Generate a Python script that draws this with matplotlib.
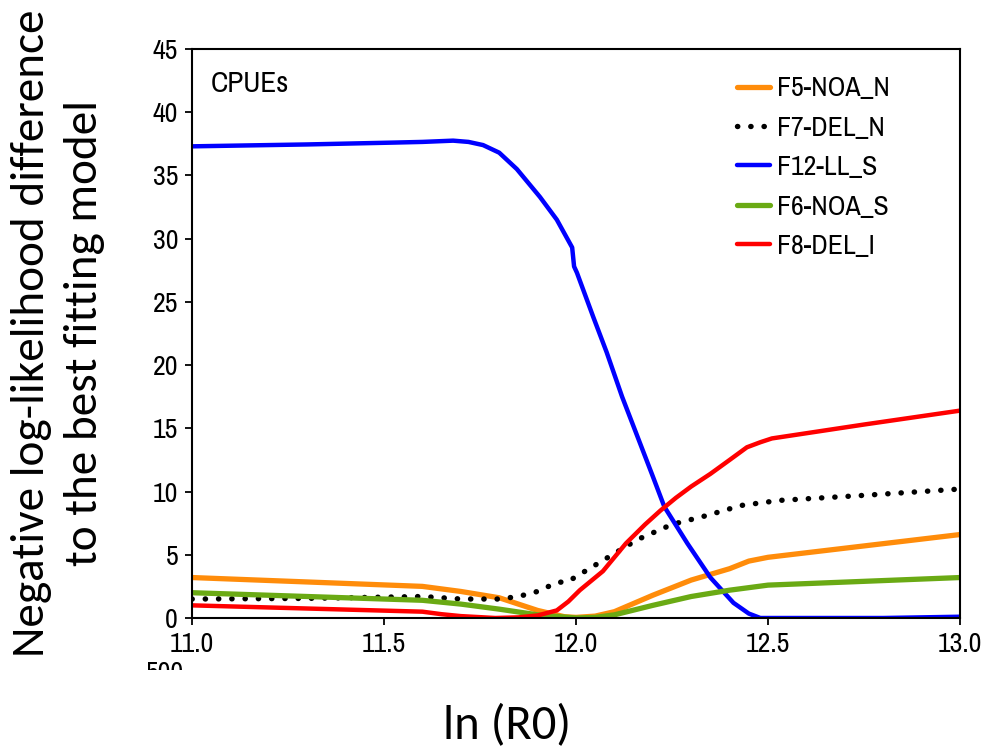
import matplotlib
matplotlib.use("Agg")
import matplotlib.pyplot as plt
from matplotlib.transforms import Bbox

# ---------------------------------------------------------
# Likelihood profile over ln(R0), CPUE components
# ---------------------------------------------------------
ln_r0_blue = [11.0, 11.3, 11.53, 11.6, 11.68, 11.72, 11.758, 11.80, 11.846, 11.906,
              11.95, 11.99, 11.995, 12.0025, 12.045, 12.08, 12.12, 12.167, 12.2,
              12.23, 12.29, 12.35, 12.41, 12.45, 12.48, 12.6, 12.8, 13.0]
f12_ll_s = [37.3, 37.45, 37.6, 37.65, 37.75, 37.65, 37.4, 36.8, 35.5, 33.3,
            31.5, 29.3, 27.8, 27.3, 23.8, 21.0, 17.5, 13.8, 11.2,
            8.8, 5.9, 3.2, 1.2, 0.35, 0.0, 0.0, 0.0, 0.1]

ln_r0_red = [11.0, 11.3, 11.6, 11.65, 11.7, 11.79, 11.85, 11.9, 11.95, 11.98,
             12.01, 12.07, 12.13, 12.18, 12.22, 12.26, 12.30, 12.35, 12.40,
             12.445, 12.48, 12.51, 12.75, 13.0]
f8_del_i = [1.0, 0.75, 0.5, 0.3, 0.15, 0.0, 0.05, 0.2, 0.6, 1.3,
            2.2, 3.7, 5.9, 7.4, 8.5, 9.5, 10.4, 11.4, 12.5,
            13.5, 13.9, 14.2, 15.3, 16.4]

ln_r0_orange = [11.0, 11.3, 11.6, 11.7, 11.8, 11.9, 11.97, 12.0, 12.05, 12.1,
                12.2, 12.3, 12.4, 12.45, 12.5, 12.75, 13.0]
f5_noa_n = [3.2, 2.85, 2.5, 2.1, 1.6, 0.6, 0.1, 0.05, 0.15, 0.5,
            1.8, 3.0, 3.9, 4.5, 4.8, 5.7, 6.6]

ln_r0_green = [11.0, 11.3, 11.6, 11.7, 11.8, 11.9, 12.0, 12.05, 12.1, 12.2,
               12.3, 12.4, 12.5, 12.75, 13.0]
f6_noa_s = [2.0, 1.7, 1.4, 1.1, 0.7, 0.25, 0.0, 0.05, 0.25, 1.0,
            1.7, 2.2, 2.6, 2.9, 3.2]

ln_r0_black = [11.0, 11.3, 11.6, 11.7, 11.8, 11.85, 11.9, 11.95, 11.98, 12.04,
               12.10, 12.16, 12.25, 12.34, 12.43, 12.53, 12.75, 13.0]
f7_del_n = [1.5, 1.55, 1.7, 1.5, 1.5, 1.7, 2.1, 2.8, 2.9, 4.0,
            5.1, 6.2, 7.4, 8.1, 8.9, 9.3, 9.7, 10.2]

x_ticks = [11.0, 11.5, 12.0, 12.5, 13.0]
y_ticks = [0, 5, 10, 15, 20, 25, 30, 35, 40, 45]

NARROW = ["Archivo Narrow", "Liberation Sans", "DejaVu Sans"]
TITLE = ["Carlito", "Liberation Sans", "DejaVu Sans"]
plt.rcParams["font.family"] = NARROW

fig = plt.figure(figsize=(9.88, 7.5), dpi=100)
ax = fig.add_axes([0.1943, 0.176, 0.7774, 0.7587])

ax.plot(ln_r0_orange, f5_noa_n, color="#FF8C0A", lw=3.8, label="F5-NOA_N",
        solid_capstyle="round")
ax.plot(ln_r0_black, f7_del_n, color="black", lw=3.9, label="F7-DEL_N",
        linestyle=(0, (0.05, 2.4)), dash_capstyle="round")
ax.plot(ln_r0_blue, f12_ll_s, color="#0000FF", lw=3.2, label="F12-LL_S",
        solid_capstyle="round")
ax.plot(ln_r0_green, f6_noa_s, color="#6AAA14", lw=3.8, label="F6-NOA_S",
        solid_capstyle="round")
ax.plot(ln_r0_red, f8_del_i, color="#FF0000", lw=3.2, label="F8-DEL_I",
        solid_capstyle="round")

ax.set_xlim(11.0, 13.0)
ax.set_ylim(0, 45)
ax.set_xticks(x_ticks)
ax.set_xticklabels([f"{v:.1f}" for v in x_ticks])
ax.set_yticks(y_ticks)
ax.tick_params(axis="both", labelsize=20, width=1.3, length=5, direction="out",
               pad=5)
for s in ax.spines.values():
    s.set_linewidth(1.5)

ax.text(0.024, 0.94, "CPUEs", transform=ax.transAxes, fontsize=21,
        ha="left", va="center")

leg = ax.legend(loc="upper left", bbox_to_anchor=(0.7096, 0.952), frameon=False,
                fontsize=20, handlelength=1.2, handletextpad=0.25,
                labelspacing=0.52, borderaxespad=0, borderpad=0)

# axis titles
fig.text(0.059, 0.556, "Negative log-likelihood difference\nto the best fitting model",
         rotation=90, ha="center", va="center", fontsize=34, linespacing=1.36,
         family=TITLE)
fig.text(0.513, 0.033, "ln (R0)", ha="center", va="center", fontsize=35,
         family=TITLE)

# stray tick label cut off below the axis
t = fig.text(165 / 988, 1 - 661 / 750, "500", ha="center", va="top", fontsize=20)
t.set_clip_box(Bbox.from_extents(0, 750 - 670, 988, 750))
t.set_clip_on(True)

fig.savefig("out.png", dpi=100)
